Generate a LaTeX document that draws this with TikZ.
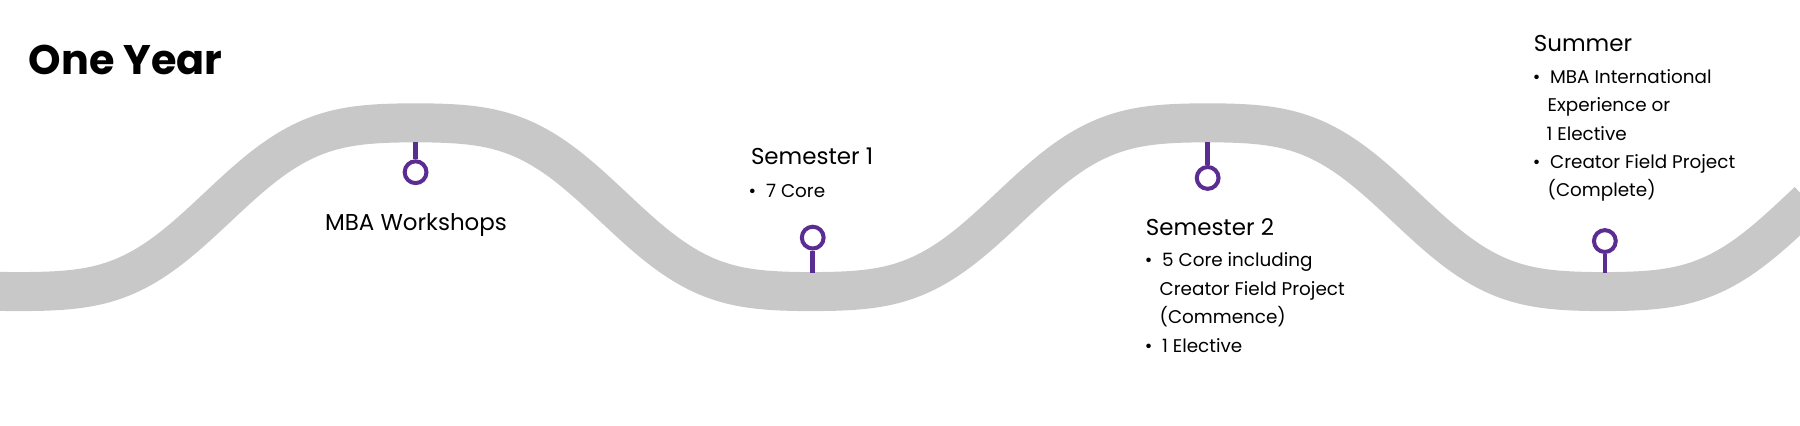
\documentclass[tikz,border=0pt]{standalone}
\usepackage{fontspec}
\setmainfont{Poppins}
\usepackage{tikz}
\usetikzlibrary{positioning,calc}
\definecolor{wavegray}{HTML}{C8C8C8}
\definecolor{pinpurple}{HTML}{5B2C91}
\begin{document}
\begin{tikzpicture}[x=1pt, y=-1pt,
	pin/.style={circle, draw=pinpurple, line width=3.5pt, fill=white, minimum size=19pt, inner sep=0pt},
	stem/.style={pinpurple, line width=4pt},
	head/.style={anchor=west, inner sep=0pt, font=\fontsize{20}{22}\selectfont},
	items/.style={anchor=north west, inner sep=0pt, align=left, font=\fontsize{16}{24.8}\selectfont}]
	\useasboundingbox (0,0) rectangle (1568,371);
	% wave
	\draw[wavegray, line width=34pt, line cap=butt] plot[domain=-5:1575, samples=400, smooth]
		(\x, {180.5+73.5*(1.4*cos(0.521739*(\x-17))-0.4*(cos(0.521739*(\x-17)))^3)});
	% title
	\node[anchor=west, inner sep=0pt, font=\fontsize{36}{40}\selectfont\bfseries] (title) at (25,52) {One Year};
	% pins
	\node[pin] (pinA) at (362,150) {};
	\coordinate (topA) at (362,124);
	\draw[stem] (topA) -- (pinA);
	\node[pin] (pinB) at (708,207) {};
	\coordinate (botB) at (708,238);
	\draw[stem] (pinB) -- (botB);
	\node[pin] (pinC) at (1052,155) {};
	\coordinate (topC) at (1052,124);
	\draw[stem] (topC) -- (pinC);
	\node[pin] (pinD) at (1398,210) {};
	\coordinate (botD) at (1398,238);
	\draw[stem] (pinD) -- (botD);
	% labels
	\node[head] (workshops) at (283,196) {MBA Workshops};
	\node[head] (sem1) at (654,136) {Semester 1};
	\node[items] (sem1list) at (652,160) {\textbullet\ \ 7 Core};
	\node[head] (sem2) at (998,198) {Semester 2};
	\node[items] (sem2list) at (997,220) {\textbullet\ \ 5 Core including\\
		\hspace*{13pt}Creator Field Project\\
		\hspace*{13pt}(Commence)\\
		\textbullet\ \ 1 Elective};
	\node[head] (summer) at (1336,38) {Summer};
	\node[items] (summerlist) at (1335,60) {\textbullet\ \ MBA International\\
		\hspace*{13pt}Experience or\\
		\hspace*{12pt}1 Elective\\
		\textbullet\ \ Creator Field Project\\
		\hspace*{13pt}(Complete)};
\end{tikzpicture}
\end{document}
